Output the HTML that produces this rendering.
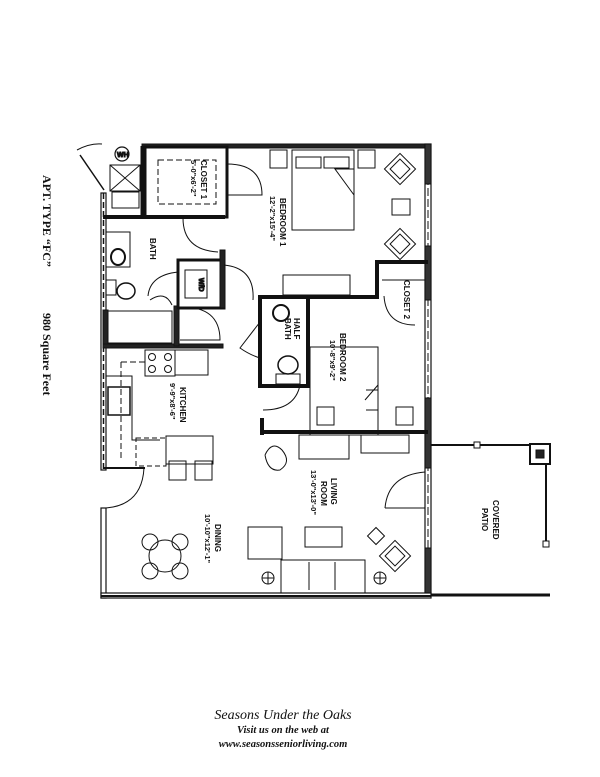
<!DOCTYPE html>
<html><head><style>
html,body{margin:0;padding:0;background:#fff;}
svg{display:block;}
text{font-family:"Liberation Sans",sans-serif;font-weight:bold;fill:#111;}
.s{font-family:"Liberation Serif",serif;}
</style></head><body>
<svg width="600" height="777" viewBox="0 0 600 777" xmlns="http://www.w3.org/2000/svg">
<g stroke="#111" fill="none">
<rect x="142" y="144" width="288" height="4" fill="#222"/>
<rect x="425" y="144" width="6" height="452" fill="#fff" stroke-width="1.2"/>
<line x1="428" y1="144" x2="428" y2="596" stroke-dasharray="8,3"/>
<rect x="425" y="144" width="6" height="40" fill="#333"/>
<rect x="425" y="246" width="6" height="54" fill="#333"/>
<rect x="425" y="398" width="6" height="70" fill="#333"/>
<rect x="425" y="548" width="6" height="48" fill="#333"/>
<rect x="101" y="193" width="5" height="277" fill="#fff" stroke-width="1.2"/>
<line x1="103.5" y1="193" x2="103.5" y2="470" stroke-dasharray="6,3" stroke-width="1.5"/>
<rect x="101" y="508" width="5" height="90" fill="#fff" stroke-width="1.2"/>
<rect x="101" y="593" width="330" height="5" fill="#fff" stroke-width="1.2"/>
<line x1="101" y1="596" x2="431" y2="596" stroke-width="2"/>
<line x1="142" y1="146" x2="142" y2="218" stroke-width="3"/>
<line x1="80" y1="155" x2="104" y2="190" stroke-width="1.5"/>
<path d="M77 150 Q90 143 102 144" stroke-width="1"/>
<circle cx="122" cy="154" r="7" stroke-width="1.2"/>
<text x="117" y="157" font-size="7">WH</text>
<rect x="110" y="165" width="30" height="26"/><line x1="110" y1="165" x2="140" y2="191"/><line x1="140" y1="165" x2="110" y2="191"/>
<rect x="112" y="192" width="27" height="16"/>
<rect x="145" y="147" width="82" height="70" stroke-width="3"/>
<rect x="158" y="160" width="58" height="44" stroke-dasharray="6,3"/>
<path d="M227 164 Q262 164 262 195 L227 195" stroke-width="1"/>
<line x1="103" y1="217" x2="225" y2="217" stroke-width="4"/>
<path d="M183 218 Q183 250 218 252" />
<rect x="106" y="232" width="24" height="35"/>
<ellipse cx="118" cy="257" rx="7" ry="8" stroke-width="2"/>
<rect x="106" y="280" width="10" height="15"/><ellipse cx="126" cy="291" rx="9" ry="8" stroke-width="1.5"/>
<rect x="103" y="310" width="5" height="37" fill="#222"/>
<rect x="103" y="344" width="120" height="4" fill="#222"/>
<rect x="174" y="306" width="5" height="40" fill="#222"/>
<rect x="108" y="311" width="64" height="32"/>
<path d="M150 300 Q165 290 172 305"/>
<path d="M180 307 Q220 306 220 340 L180 340"/>
<rect x="178" y="260" width="46" height="48" stroke-width="3"/>
<rect x="185" y="270" width="22" height="28"/>
<text transform="translate(199,278) rotate(90)" font-size="7">W/D</text>
<path d="M178 272 Q150 275 148 296"/>
<rect x="220" y="250" width="5" height="58" fill="#222"/>
<path d="M224 265 Q255 268 253 300"/>
<rect x="292" y="150" width="62" height="80"/>
<rect x="296" y="157" width="25" height="11"/><rect x="324" y="157" width="25" height="11"/>
<path d="M335 169 L354 169 L354 195 Z"/>
<rect x="270" y="150" width="17" height="18"/><rect x="358" y="150" width="17" height="18"/>
<rect x="392" y="199" width="18" height="16"/>
<rect x="389" y="158" width="22" height="22" transform="rotate(45 400 169)"/>
<rect x="393" y="162" width="14" height="14" transform="rotate(45 400 169)"/>
<rect x="389" y="233" width="22" height="22" transform="rotate(45 400 244)"/>
<rect x="393" y="237" width="14" height="14" transform="rotate(45 400 244)"/>
<rect x="283" y="275" width="67" height="20"/>
<path d="M428 262 L377 262 L377 297 L258 297" stroke-width="4"/>
<line x1="382" y1="280" x2="425" y2="280"/>
<path d="M384 296 Q386 325 415 325"/>
<rect x="260" y="297" width="48" height="89" stroke-width="4"/>
<ellipse cx="281" cy="313" rx="8" ry="8" stroke-width="2"/>
<ellipse cx="288" cy="365" rx="10" ry="9" stroke-width="1.5"/>
<rect x="276" y="374" width="24" height="10"/>
<path d="M260 322 L240 348 Q250 355 260 358"/>
<rect x="310" y="347" width="68" height="88"/>
<path d="M366 390 L378 390 L378 410 L366 410" />
<path d="M365 400 L378 385"/>
<rect x="317" y="407" width="17" height="18"/><rect x="396" y="407" width="17" height="18"/>
<path d="M262 432 L428 432" stroke-width="4"/>
<path d="M262 418 L262 435" stroke-width="4"/>
<path d="M263 410 Q295 410 300 385"/>
<rect x="299" y="435" width="50" height="24"/><rect x="361" y="435" width="48" height="18"/>
<rect x="145" y="350" width="30" height="26"/>
<circle cx="152" cy="357" r="3.5"/><circle cx="168" cy="357" r="3.5"/><circle cx="152" cy="369" r="3.5"/><circle cx="168" cy="369" r="3.5"/>
<rect x="175" y="350" width="33" height="25"/>
<path d="M121 362 L145 362 M121 362 L121 460" stroke-dasharray="6,3"/>
<path d="M106 376 L132 376 L132 440 L160 440"/>
<rect x="108" y="387" width="22" height="28" stroke-width="1.5"/>
<rect x="136" y="438" width="30" height="28" stroke-dasharray="5,3"/>
<rect x="166" y="436" width="47" height="28"/>
<rect x="169" y="461" width="17" height="19"/><rect x="195" y="461" width="17" height="19"/>
<line x1="103" y1="468" x2="145" y2="468" stroke-width="2"/>
<path d="M144 468 Q142 505 106 508"/>
<path d="M265 455 Q272 440 282 450 Q292 462 280 470 Q268 472 265 455" />
<rect x="248" y="527" width="34" height="32"/>
<rect x="305" y="527" width="37" height="20"/>
<rect x="281" y="560" width="84" height="33"/>
<line x1="309" y1="562" x2="309" y2="590"/><line x1="335" y1="562" x2="335" y2="590"/>
<circle cx="268" cy="578" r="6"/><line x1="262" y1="578" x2="274" y2="578"/><line x1="268" y1="572" x2="268" y2="584"/>
<circle cx="380" cy="578" r="6"/><line x1="374" y1="578" x2="386" y2="578"/><line x1="380" y1="572" x2="380" y2="584"/>
<rect x="370" y="530" width="12" height="12" transform="rotate(45 376 536)"/>
<rect x="384" y="545" width="22" height="22" transform="rotate(45 395 556)"/>
<rect x="388" y="549" width="14" height="14" transform="rotate(45 395 556)"/>
<path d="M385 508 Q388 475 425 472"/>
<line x1="385" y1="508" x2="425" y2="508"/>
<circle cx="165" cy="556" r="16"/>
<circle cx="150" cy="542" r="8"/><circle cx="180" cy="542" r="8"/><circle cx="150" cy="571" r="8"/><circle cx="180" cy="571" r="8"/>
<line x1="431" y1="445" x2="530" y2="445" stroke-width="2"/>
<rect x="530" y="444" width="20" height="20" stroke-width="2"/><rect x="536" y="450" width="8" height="8" fill="#222"/>
<line x1="546" y1="464" x2="546" y2="545" stroke-width="2"/>
<rect x="543" y="541" width="6" height="6" fill="#fff"/>
<rect x="474" y="442" width="6" height="6" fill="#fff"/>
<line x1="431" y1="595" x2="550" y2="595" stroke-width="3"/>
</g>
<g font-size="8">
<text transform="translate(201,160) rotate(90)">CLOSET 1</text>
<text transform="translate(191,160) rotate(90)" font-size="7.5">5'-0"x6'-2"</text>
<text transform="translate(280,198) rotate(90)">BEDROOM 1</text>
<text transform="translate(270,196) rotate(90)" font-size="7.5">12'-2"x15'-4"</text>
<text transform="translate(150,238) rotate(90)">BATH</text>
<text transform="translate(404,280) rotate(90)">CLOSET 2</text>
<text transform="translate(294,318) rotate(90)">HALF</text>
<text transform="translate(285,318) rotate(90)">BATH</text>
<text transform="translate(340,333) rotate(90)">BEDROOM 2</text>
<text transform="translate(330,340) rotate(90)" font-size="7.5">10'-8"x9'-2"</text>
<text transform="translate(180,387) rotate(90)">KITCHEN</text>
<text transform="translate(170,383) rotate(90)" font-size="7.5">9'-9"x8'-6"</text>
<text transform="translate(331,478) rotate(90)">LIVING</text>
<text transform="translate(321,481) rotate(90)">ROOM</text>
<text transform="translate(311,470) rotate(90)" font-size="7.5">13'-0"x13'-0"</text>
<text transform="translate(215,524) rotate(90)">DINING</text>
<text transform="translate(205,514) rotate(90)" font-size="7.5">10'-10"x12'-1"</text>
<text transform="translate(493,500) rotate(90)">COVERED</text>
<text transform="translate(482,508) rotate(90)">PATIO</text>
</g>
<text class="s" transform="translate(43,175) rotate(90)" font-size="12">APT. TYPE “FC”</text>
<text class="s" transform="translate(43,313) rotate(90)" font-size="12">980 Square Feet</text>
<text x="283" y="719" text-anchor="middle" font-size="14" style="font-family:'Liberation Serif',serif;font-style:italic;font-weight:normal;">Seasons Under the Oaks</text>
<text x="283" y="733" text-anchor="middle" font-size="10.5" style="font-family:'Liberation Serif',serif;font-style:italic;">Visit us on the web at</text>
<text x="283" y="747" text-anchor="middle" font-size="10.5" style="font-family:'Liberation Serif',serif;font-style:italic;">www.seasonsseniorliving.com</text>
</svg>
</body></html>
